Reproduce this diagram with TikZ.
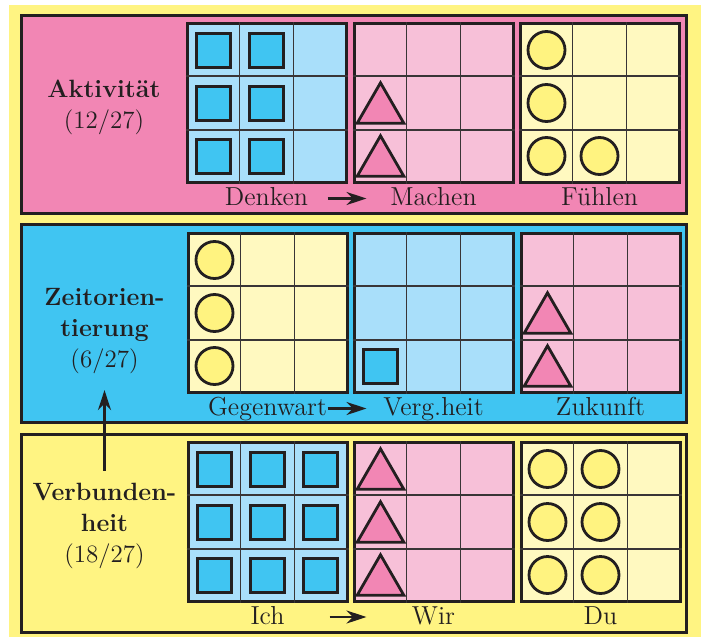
\documentclass[tikz,border=0pt]{standalone}
\usepackage{tikz}
\usetikzlibrary{shapes.geometric, arrows.meta, positioning, calc}

\definecolor{bgyellow}{RGB}{255,244,130}
\definecolor{panelpink}{RGB}{242,134,180}
\definecolor{panelblue}{RGB}{64,197,242}
\definecolor{cellpink}{RGB}{247,192,216}
\definecolor{cellblue}{RGB}{169,223,250}
\definecolor{cellyellow}{RGB}{255,249,192}
\definecolor{tileyellow}{RGB}{255,243,128}
\definecolor{darkline}{RGB}{35,31,32}

\begin{document}
\begin{tikzpicture}[
    x=0.5pt, y=-0.5pt,
    panel/.style={rectangle, draw=darkline, line width=1.5pt, minimum width=332.5pt, minimum height=99pt, inner sep=0pt},
    gridbox/.style={rectangle, draw=darkline, line width=1.5pt, minimum size=79.5pt, inner sep=0pt},
    gridline/.style={draw=darkline!90, line width=0.6pt},
    sqtile/.style={rectangle, draw=darkline, line width=1.5pt, fill=panelblue, minimum size=17pt, inner sep=0pt},
    circtile/.style={circle, draw=darkline, line width=1.4pt, fill=tileyellow, minimum size=18.5pt, inner sep=0pt},
    tritile/.style={regular polygon, regular polygon sides=3, draw=darkline, line width=1.4pt, fill=panelpink, minimum size=27pt, inner sep=0pt, yshift=-3.4pt},
    caption/.style={font=\fontsize{13}{15}\selectfont, anchor=base, inner sep=0pt, text=darkline},
    dimlabel/.style={font=\fontsize{12.5}{15.5}\selectfont, align=center, inner sep=0pt, text=darkline},
    arrow/.style={-{Stealth[length=10pt, width=6.5pt]}, line width=1.1pt, draw=darkline}
]

% Hintergrund
\fill[white] (0,0) rectangle (701,637);
\fill[bgyellow] (9,5) rectangle (701,637);
\useasboundingbox (0,0) rectangle (701,637);

% ========== PANELS ==========
\node[panel, fill=panelpink] (pA) at (353.5,114) {};
\node[panel, fill=panelblue] (pB) at (353.5,323.5) {};
\node[panel, fill=bgyellow] (pC) at (353.5,533) {};

% ========== GITTER ==========
\node[gridbox, fill=cellblue] (gA1) at (266.5,103) {};
\node[gridbox, fill=cellpink, right=2.5pt of gA1] (gA2) {};
\node[gridbox, fill=cellyellow, right=2pt of gA2] (gA3) {};

\node[gridbox, fill=cellyellow] (gB1) at (267.5,313) {};
\node[gridbox, fill=cellblue, right=2pt of gB1] (gB2) {};
\node[gridbox, fill=cellpink, right=2.5pt of gB2] (gB3) {};

\node[gridbox, fill=cellblue] (gC1) at (267.5,522) {};
\node[gridbox, fill=cellpink, right=2pt of gC1] (gC2) {};
\node[gridbox, fill=cellyellow, right=2.5pt of gC2] (gC3) {};

% Zellenlinien
\foreach \g in {gA1,gA2,gA3,gB1,gB2,gB3,gC1,gC2,gC3} {
  \foreach \f in {1/3,2/3} {
    \draw[gridline] ($(\g.north west)!\f!(\g.north east)$) -- ($(\g.south west)!\f!(\g.south east)$);
    \draw[gridline] ($(\g.north west)!\f!(\g.south west)$) -- ($(\g.north east)!\f!(\g.south east)$);
  }
}

% ========== STEINE ==========
% Aktivitaet
\foreach \c in {1,2} \foreach \r in {1,2,3}
  \node[sqtile] (sqA-\c-\r) at ($(gA1.center)+({(\c-2)*53},{(\r-2)*53})$) {};
\foreach \r in {2,3}
  \node[tritile] (trA-\r) at ($(gA2.center)+(-53,{(\r-2)*53})$) {};
\foreach \c/\r in {1/1,1/2,1/3,2/3}
  \node[circtile] (ciA-\c-\r) at ($(gA3.center)+({(\c-2)*53},{(\r-2)*53})$) {};

% Zeitorientierung
\foreach \r in {1,2,3}
  \node[circtile] (ciB-\r) at ($(gB1.center)+(-53,{(\r-2)*53})$) {};
\node[sqtile] (sqB) at ($(gB2.center)+(-53,53)$) {};
\foreach \r in {2,3}
  \node[tritile] (trB-\r) at ($(gB3.center)+(-53,{(\r-2)*53})$) {};

% Verbundenheit
\foreach \c in {1,2,3} \foreach \r in {1,2,3}
  \node[sqtile] (sqC-\c-\r) at ($(gC1.center)+({(\c-2)*53},{(\r-2)*53})$) {};
\foreach \r in {1,2,3}
  \node[tritile] (trC-\r) at ($(gC2.center)+(-53,{(\r-2)*53})$) {};
\foreach \c in {1,2} \foreach \r in {1,2,3}
  \node[circtile] (ciC-\c-\r) at ($(gC3.center)+({(\c-2)*53},{(\r-2)*53})$) {};

% ========== BESCHRIFTUNG ==========
\node[caption] (lblA1) at ($(gA1.south)+(0,21.5)$) {Denken};
\node[caption] (lblA2) at ($(gA2.south)+(0,21.5)$) {Machen};
\node[caption] (lblA3) at ($(gA3.south)+(0,21.5)$) {Fühlen};

\node[caption] (lblB1) at ($(gB1.south)+(0,21.5)$) {Gegenwart};
\node[caption] (lblB2) at ($(gB2.south)+(0,21.5)$) {Verg.heit};
\node[caption] (lblB3) at ($(gB3.south)+(0,21.5)$) {Zukunft};

\node[caption] (lblC1) at ($(gC1.south)+(0,21)$) {Ich};
\node[caption] (lblC2) at ($(gC2.south)+(0,21)$) {Wir};
\node[caption] (lblC3) at ($(gC3.south)+(0,21)$) {Du};

\node[dimlabel] (dimA) at (104,107) {\textbf{Aktivität}\\(12/27)};
\node[dimlabel] (dimB) at (104.5,331) {\textbf{Zeitorien-}\\\textbf{tierung}\\(6/27)};
\node[dimlabel] (dimC) at (104.5,526) {\textbf{Verbunden-}\\\textbf{heit}\\(18/27)};

% Pfeile
\draw[arrow] ($(gA1.east |- lblA1.base)+(-20,-7)$) -- ($(gA2.west |- lblA1.base)+(14,-7)$);
\draw[arrow] ($(gB1.east |- lblB1.base)+(-21,-7)$) -- ($(gB2.west |- lblB1.base)+(14,-7)$);
\draw[arrow] ($(gC1.east |- lblC1.base)+(-19,-7)$) -- ($(gC2.west |- lblC1.base)+(14,-7)$);
\draw[arrow, shorten <=6pt, shorten >=8pt] (dimC) -- (dimB);

\end{tikzpicture}
\end{document}
